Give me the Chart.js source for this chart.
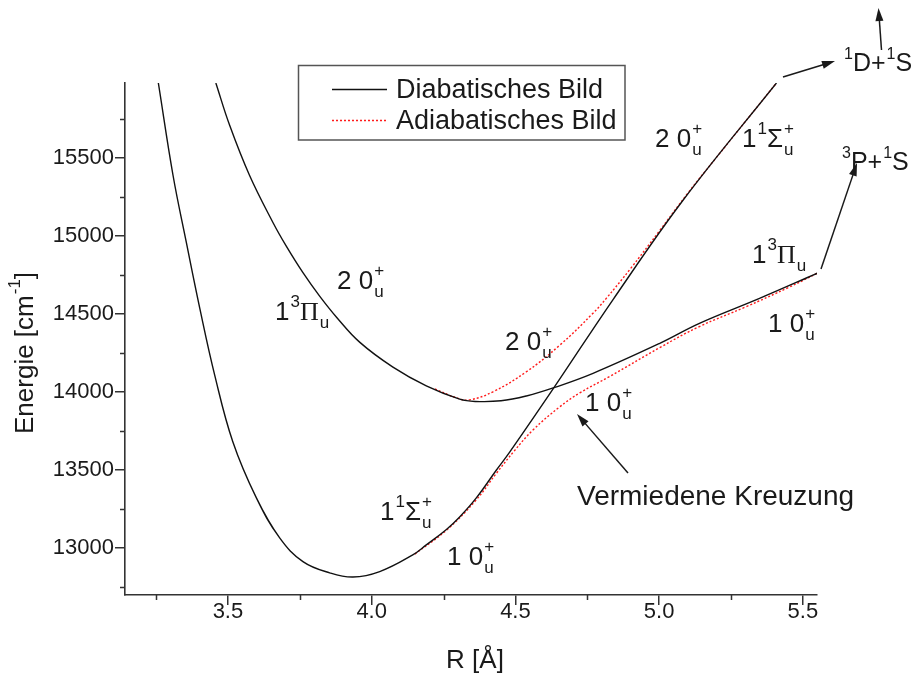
<!DOCTYPE html>
<html>
<head>
<meta charset="utf-8">
<script src="https://cdn.jsdelivr.net/npm/chart.js@4.4.0/dist/chart.umd.min.js"></script>
<style>
  html, body { margin: 0; padding: 0; background: #fff; }
  #wrap { width: 913px; height: 675px; position: relative; }
</style>
</head>
<body>
<div id="wrap"><canvas id="c"></canvas></div>
<script>
// Potential energy curves: internuclear distance R [Å] and energy [cm^-1]

// Diabatic 1¹Σu+ state
const sigmaR = [3.258, 3.309, 3.355, 3.402, 3.454, 3.517, 3.599, 3.680, 3.761, 3.854, 3.935, 4.028, 4.143, 4.190, 4.260, 4.306, 4.364, 4.434, 4.480, 4.634, 4.839, 5.083, 5.408];
const sigmaE = [15980, 15389, 14962, 14538, 14109, 13682, 13322, 13066, 12914, 12842, 12815, 12850, 12957, 13021, 13120, 13200, 13322, 13501, 13615, 14028, 14591, 15229, 15980];

// Diabatic 1³Πu state
const piR = [3.458, 3.506, 3.575, 3.657, 3.703, 3.761, 3.819, 3.880, 3.958, 4.074, 4.190, 4.306, 4.360, 4.450, 4.538, 4.634, 4.770, 5.002, 5.140, 5.349, 5.551];
const piE = [15980, 15709, 15389, 15085, 14935, 14765, 14615, 14475, 14320, 14160, 14040, 13955, 13940, 13944, 13975, 14028, 14120, 14312, 14440, 14600, 14762];

// Adiabatic 2 0u+ state
const upperR = [4.220, 4.300, 4.341, 4.422, 4.538, 4.654, 4.770, 4.816, 4.900, 5.000, 5.100, 5.200, 5.408];
const upperE = [14020, 13960, 13950, 14002, 14130, 14300, 14505, 14600, 14790, 15030, 15275, 15505, 15980];

// Adiabatic 1 0u+ state
const lowerR = [4.150, 4.260, 4.364, 4.434, 4.497, 4.561, 4.654, 4.724, 4.828, 5.002, 5.140, 5.300, 5.450, 5.551];
const lowerE = [12962, 13115, 13310, 13480, 13625, 13757, 13905, 13995, 14100, 14285, 14420, 14545, 14670, 14762];

// Axis ticks
const xTickValues = [3.5, 4.0, 4.5, 5.0, 5.5];
const xMinorValues = [3.25, 3.75, 4.25, 4.75, 5.25];
const yTickValues = [13000, 13500, 14000, 14500, 15000, 15500];
const yMinorValues = [12750, 13250, 13750, 14250, 14750, 15250, 15750];

const seriesNames = ['Diabatisches Bild', 'Adiabatisches Bild'];

const SANS = '"Liberation Sans", Arial, Helvetica, sans-serif';
const SERIF = '"Liberation Serif", "Times New Roman", serif';
const INK = '#1a1a1a';
const AXIS = '#333333';
const BLACK = '#111111';
const RED = '#ff1a1a';

const pts = (xs, ys) => xs.map((x, i) => ({ x: x, y: ys[i] }));

const diabStyle = { borderColor: BLACK, borderWidth: 1.4, borderDash: [] };
const adiaStyle = { borderColor: RED, borderWidth: 1.4, borderDash: [2, 2] };

// Text with superscripts / subscripts; parts are strings or {sup, sub, serif}
function rich(ctx, x, y, parts, size) {
  let cx = x;
  const small = Math.round(size * 0.64);
  ctx.textBaseline = 'alphabetic';
  ctx.textAlign = 'left';
  for (const p of parts) {
    if (typeof p === 'string') {
      ctx.font = size + 'px ' + SANS;
      ctx.fillText(p, cx, y);
      cx += ctx.measureText(p).width;
    } else if (p.serif) {
      ctx.font = size + 'px ' + SERIF;
      ctx.fillText(p.serif, cx, y);
      cx += ctx.measureText(p.serif).width;
    } else {
      ctx.font = small + 'px ' + SANS;
      let w = 0;
      if (p.sup) {
        ctx.fillText(p.sup, cx + 1, y - size * 0.5);
        w = Math.max(w, ctx.measureText(p.sup).width);
      }
      if (p.sub) {
        ctx.fillText(p.sub, cx + 1, y + size * 0.3);
        w = Math.max(w, ctx.measureText(p.sub).width);
      }
      cx += w + 1;
    }
  }
  return cx;
}

function arrow(ctx, x1, y1, x2, y2) {
  const a = Math.atan2(y2 - y1, x2 - x1);
  const L = 13, W = 4;
  const c = Math.cos(a), s = Math.sin(a);
  ctx.beginPath();
  ctx.moveTo(x1, y1);
  ctx.lineTo(x2 - L * 0.7 * c, y2 - L * 0.7 * s);
  ctx.stroke();
  ctx.beginPath();
  ctx.moveTo(x2, y2);
  ctx.lineTo(x2 - L * c + W * s, y2 - L * s - W * c);
  ctx.lineTo(x2 - L * c - W * s, y2 - L * s + W * c);
  ctx.closePath();
  ctx.fill();
}

// State labels (left x, baseline y, font size)
const stateLabels = [
  { x: 337, y: 289, s: 26, parts: ['2 0', { sub: 'u', sup: '+' }] },
  { x: 275, y: 320, s: 26, parts: ['1', { sup: '3' }, { serif: 'Π' }, { sub: 'u' }] },
  { x: 505, y: 350, s: 26, parts: ['2 0', { sub: 'u', sup: '+' }] },
  { x: 585, y: 411, s: 26, parts: ['1 0', { sub: 'u', sup: '+' }] },
  { x: 380, y: 520, s: 26, parts: ['1', { sup: '1' }, 'Σ', { sub: 'u', sup: '+' }] },
  { x: 447, y: 565, s: 26, parts: ['1 0', { sub: 'u', sup: '+' }] },
  { x: 655, y: 147, s: 26, parts: ['2 0', { sub: 'u', sup: '+' }] },
  { x: 742, y: 147, s: 26, parts: ['1', { sup: '1' }, 'Σ', { sub: 'u', sup: '+' }] },
  { x: 752, y: 263, s: 26, parts: ['1', { sup: '3' }, { serif: 'Π' }, { sub: 'u' }] },
  { x: 768, y: 332, s: 26, parts: ['1 0', { sub: 'u', sup: '+' }] },
  { x: 843, y: 71, s: 25, parts: [{ sup: '1' }, 'D+', { sup: '1' }, 'S'] },
  { x: 841, y: 170, s: 25, parts: [{ sup: '3' }, 'P+', { sup: '1' }, 'S'] },
  { x: 577, y: 505, s: 28, parts: ['Vermiedene Kreuzung'] }
];

const arrows = [
  [783, 77, 835, 61],
  [881.5, 50, 878.5, 8],
  [821, 269, 857, 163],
  [628, 473, 577, 414]
];

const decorations = {
  id: 'decorations',
  afterDraw(chart) {
    const ctx = chart.ctx;
    const xs = chart.scales.x, ys = chart.scales.y;
    const area = chart.chartArea;
    ctx.save();

    // minor ticks
    ctx.strokeStyle = AXIS;
    ctx.lineWidth = 1.5;
    ctx.beginPath();
    for (const v of yMinorValues) {
      const py = Math.round(ys.getPixelForValue(v)) + 0.5;
      ctx.moveTo(area.left - 5, py);
      ctx.lineTo(area.left, py);
    }
    for (const v of xMinorValues) {
      const px = Math.round(xs.getPixelForValue(v)) + 0.5;
      ctx.moveTo(px, area.bottom);
      ctx.lineTo(px, area.bottom + 5);
    }
    ctx.stroke();

    // legend
    const ds = chart.data.datasets;
    ctx.strokeStyle = '#555';
    ctx.lineWidth = 1.5;
    ctx.strokeRect(298.5, 65.5, 326.5, 74.5);
    const rows = [{ d: ds[0], y: 89 }, { d: ds[2], y: 120 }];
    rows.forEach((r, i) => {
      ctx.strokeStyle = r.d.borderColor;
      ctx.lineWidth = r.d.borderWidth;
      ctx.setLineDash(r.d.borderDash || []);
      ctx.beginPath();
      ctx.moveTo(332, r.y + 0.5);
      ctx.lineTo(387, r.y + 0.5);
      ctx.stroke();
      ctx.setLineDash([]);
      ctx.fillStyle = INK;
      ctx.font = '27px ' + SANS;
      ctx.textBaseline = 'alphabetic';
      ctx.textAlign = 'left';
      ctx.fillText(seriesNames[i], 396, r.y + 8.5);
    });

    // state labels
    ctx.fillStyle = INK;
    for (const l of stateLabels) rich(ctx, l.x, l.y, l.parts, l.s);

    // arrows
    ctx.strokeStyle = INK;
    ctx.fillStyle = INK;
    ctx.lineWidth = 1.5;
    for (const a of arrows) arrow(ctx, a[0], a[1], a[2], a[3]);

    // axis titles
    ctx.fillStyle = INK;
    ctx.font = '26px ' + SANS;
    ctx.textAlign = 'center';
    ctx.textBaseline = 'alphabetic';
    ctx.fillText('R [Å]', 475, 668);
    ctx.save();
    ctx.translate(33, 434);
    ctx.rotate(-Math.PI / 2);
    rich(ctx, 0, 0, ['Energie [cm', { sup: '-1' }, ']'], 26);
    ctx.restore();

    ctx.restore();
  }
};

const tickFont = { family: SANS, size: 22 };

new Chart(document.getElementById('c'), {
  type: 'line',
  data: {
    datasets: [
      Object.assign({ label: seriesNames[0], data: pts(sigmaR, sigmaE), order: 0 }, diabStyle),
      Object.assign({ label: seriesNames[0], data: pts(piR, piE), order: 0 }, diabStyle),
      Object.assign({ label: seriesNames[1], data: pts(upperR, upperE), order: 1 }, adiaStyle),
      Object.assign({ label: seriesNames[1], data: pts(lowerR, lowerE), order: 1 }, adiaStyle)
    ]
  },
  options: {
    responsive: true,
    maintainAspectRatio: false,
    devicePixelRatio: 1,
    animation: false,
    events: [],
    layout: { padding: { top: 83, right: 96, left: 0, bottom: 0 } },
    elements: {
      point: { radius: 0 },
      line: { tension: 0.4, cubicInterpolationMode: 'default', fill: false }
    },
    plugins: { legend: { display: false }, tooltip: { enabled: false } },
    scales: {
      x: {
        type: 'linear',
        min: 3.142,
        max: 5.549,
        afterBuildTicks: (axis) => { axis.ticks = xTickValues.map(v => ({ value: v })); },
        afterFit: (axis) => { axis.height = 80; },
        ticks: {
          font: tickFont, color: INK, padding: -6, maxRotation: 0, autoSkip: false,
          callback: (v) => Number(v).toFixed(1)
        },
        grid: { drawOnChartArea: false, drawTicks: true, tickLength: 10, color: AXIS, lineWidth: 1.5 },
        border: { display: true, color: AXIS, width: 1.6 }
      },
      y: {
        type: 'linear',
        min: 12700,
        max: 15980,
        afterBuildTicks: (axis) => { axis.ticks = yTickValues.map(v => ({ value: v })); },
        afterFit: (axis) => { axis.width = 125; },
        ticks: {
          font: tickFont, color: INK, padding: 1, autoSkip: false,
          callback: (v) => String(v)
        },
        grid: { drawOnChartArea: false, drawTicks: true, tickLength: 10, color: AXIS, lineWidth: 1.5 },
        border: { display: true, color: AXIS, width: 1.6 }
      }
    }
  },
  plugins: [decorations]
});
</script>
</body>
</html>
